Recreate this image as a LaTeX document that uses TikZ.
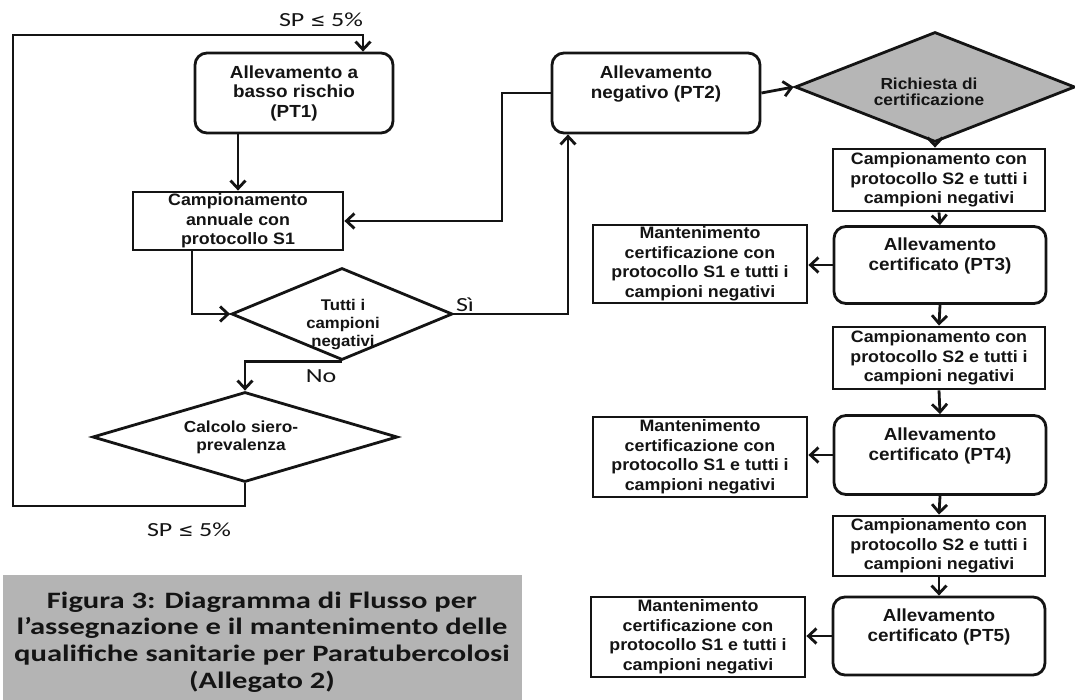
\documentclass[tikz,border=0pt]{standalone}
\usepackage{fontspec}
\setmainfont{Liberation Sans}
\newfontfamily\bfont[FakeStretch=1.08]{Liberation Sans}
\newfontfamily\cfont[FakeStretch=1.3]{Carlito}
\newfontfamily\dfont{DejaVu Sans}
\usetikzlibrary{arrows.meta,shapes.geometric,calc}
\definecolor{ink}{HTML}{141414}
\definecolor{capgray}{HTML}{B4B4B4}
\definecolor{rdgray}{HTML}{B6B6B6}
\begin{document}
\begin{tikzpicture}[x=1pt,y=-1pt,
  every node/.style={text=ink},
  conn/.style={draw=ink,line width=2.8pt,-{Straight Barb[length=8pt,width=15pt]}},
  rbox/.style={draw=ink,line width=2.8pt,rounded corners=12pt,inner sep=0pt,align=center,
    font=\bfont\bfseries\fontsize{17.5}{19.5}\selectfont},
  sbox/.style={draw=ink,line width=2.8pt,inner sep=0pt,align=center,
    font=\bfont\bfseries\fontsize{16.5}{19.5}\selectfont},
  mbox/.style={sbox,minimum width=214pt,minimum height=80pt},
  dia/.style={draw=ink,line width=2.8pt,diamond,inner sep=0pt},
  dtext/.style={inner sep=0pt,align=center,font=\bfont\bfseries\fontsize{15.5}{18}\selectfont},
  lab/.style={inner sep=0pt,font=\cfont\fontsize{20}{24}\selectfont},
  captext/.style={inner sep=0pt,align=center,font=\cfont\bfseries\fontsize{23.5}{26.7}\selectfont}
]
\useasboundingbox (0,0) rectangle (1075,700);
\fill[white] (0,0) rectangle (1075,700);

% caption
\node[fill=capgray,minimum width=519pt,minimum height=125pt,inner sep=0pt,anchor=north west] (capbox) at (3,575) {};
\node[captext] (cap) at (262,642) {Figura 3: Diagramma di Flusso per\\l’assegnazione e il mantenimento delle\\qualifiche sanitarie per Paratubercolosi\\(Allegato 2)};

% left part
\node[rbox,minimum width=198pt,minimum height=80pt] (PT1) at (294,93) {Allevamento a\\basso rischio\\(PT1)};
\node[sbox,minimum width=210pt,minimum height=58pt] (S1) at (238,221) {Campionamento\\annuale con\\protocollo S1};
\node[dia,minimum width=221pt,minimum height=92pt] (D1) at (342,314) {};
\node[dtext] (D1t) at (343,325) {Tutti i\\campioni\\negativi};
\node[dia,minimum width=305pt,minimum height=90pt] (D2) at (245,437) {};
\node[dtext,font=\bfont\bfseries\fontsize{16}{18}\selectfont] (D2t) at (241,437) {Calcolo siero-\\prevalenza};

% top middle / right
\node[rbox,minimum width=208pt,minimum height=80pt] (PT2) at (656,93) {Allevamento\\negativo (PT2)\\[2pt]\mbox{}};
\node[dia,fill=rdgray,minimum width=280pt,minimum height=110pt] (RD) at (935,87) {};
\node[dtext,font=\bfont\bfseries\fontsize{16}{16}\selectfont] (RDt) at (929,92) {Richiesta di\\certificazione};

% right column
\node[sbox,minimum width=212pt,minimum height=62pt] (S2a) at (939,180) {Campionamento con\\protocollo S2 e tutti i\\campioni negativi};
\node[rbox,minimum width=212pt,minimum height=77pt] (PT3) at (940,265) {Allevamento\\certificato (PT3)\\[2pt]\mbox{}};
\node[sbox,minimum width=212pt,minimum height=62pt] (S2b) at (939,358) {Campionamento con\\protocollo S2 e tutti i\\campioni negativi};
\node[rbox,minimum width=212pt,minimum height=79pt] (PT4) at (940,455) {Allevamento\\certificato (PT4)\\[2pt]\mbox{}};
\node[sbox,minimum width=212pt,minimum height=60pt] (S2c) at (939,546) {Campionamento con\\protocollo S2 e tutti i\\campioni negativi};
\node[rbox,minimum width=212pt,minimum height=78pt] (PT5) at (939,636) {Allevamento\\certificato (PT5)\\[2pt]\mbox{}};

\node[mbox,minimum height=78pt] (M1) at (700,264) {Mantenimento\\certificazione con\\protocollo S1 e tutti i\\campioni negativi};
\node[mbox] (M2) at (700,457) {Mantenimento\\certificazione con\\protocollo S1 e tutti i\\campioni negativi};
\node[mbox] (M3) at (698,637) {Mantenimento\\certificazione con\\protocollo S1 e tutti i\\campioni negativi};

% labels
\node[lab] (sptop) at (321,20) {SP {\dfont\fontsize{18}{20}\selectfont ≤} 5\%};
\node[lab] (spbot) at (189,530) {SP {\dfont\fontsize{18}{20}\selectfont ≤} 5\%};
\node[lab] (si) at (465,305) {Sì};
\node[lab] (no) at (321,376) {No};

% coordinates
\coordinate (c1) at (13,506);
\coordinate (c2) at (13,35);
\coordinate (c3) at (363,35);
\coordinate (c4) at (192,0);
\coordinate (c5) at (568,0);
\coordinate (c6) at (502,0);

% connectors left
\draw[conn] (D2.south) |- (c1) -- (c2) -- (c3) -- (c3 |- PT1.north);
\draw[conn] (S1.north |- PT1.south) -- (S1.north);
\draw[conn] (S1.south -| c4) |- (D1.west);
\draw[conn] (D1.south) -| (D2.north);
\draw[conn] (D1.east) -| (c5 |- PT2.south);
\draw[conn] (PT2.west) -| (c6 |- S1.east) -- (S1.east);
\draw[conn] (PT2.east) -- (RD.west);

% connectors right
\draw[conn] (RD.south) -- (RD.south |- S2a.north);
\draw[conn] (S2a.south) -- (PT3.north);
\draw[conn] (PT3.south) -- (S2b.north);
\draw[conn] (S2b.south) -- (PT4.north);
\draw[conn] (PT4.south) -- (S2c.north);
\draw[conn] (S2c.south) -- (PT5.north);
\draw[conn] (PT3.west) -- (PT3.west -| M1.east);
\draw[conn] (PT4.west) -- (PT4.west -| M2.east);
\draw[conn] (PT5.west) -- (PT5.west -| M3.east);
\end{tikzpicture}
\end{document}
